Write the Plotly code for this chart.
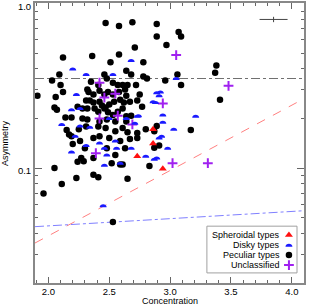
import numpy as np
import plotly.graph_objects as go

# ---------------- data ----------------
pec_C = [2.47, 2.58, 2.69, 2.89, 2.89, 3.07, 3.09, 2.97, 2.71, 2.12, 2.36, 2.58, 2.51, 2.78,
         3.38, 3.37, 3.06, 2.96, 3.09, 3.41, 3.17, 2.89, 2.87, 2.87, 2.91, 1.91, 2.09, 2.03,
         2.10, 2.12, 2.06, 2.05, 2.07,
         2.46, 2.48, 2.53, 2.57, 2.64, 2.68, 2.78, 2.81, 2.61, 2.72, 2.65, 2.75, 2.32, 2.33,
         2.37, 2.42, 2.46, 2.49, 2.53, 2.58, 2.63, 2.64, 2.31, 2.34, 2.37, 2.42, 2.44, 2.47,
         2.50, 2.54, 2.59, 2.62, 2.67, 2.73, 2.28, 2.32, 2.38, 2.41, 2.46, 2.49, 2.53, 2.57,
         2.61, 2.64, 2.68, 2.77, 2.14, 2.19, 2.28, 2.32, 2.42, 2.48, 2.55, 2.64, 2.15, 2.17,
         2.19, 2.25, 2.31, 2.41, 2.47, 2.55, 2.61, 2.65, 2.73, 2.80, 2.20, 2.26, 2.37, 2.42,
         2.50, 2.59, 2.67, 2.73, 2.30, 2.48, 2.63, 2.24, 2.35, 2.41,
         2.27, 2.29, 2.24, 2.37, 2.55, 2.52, 2.59, 2.61, 2.05, 2.83, 2.23, 2.37, 2.41, 2.11,
         2.65, 1.96, 2.53]
pec_A = [0.76, 0.73, 0.77, 0.75, 0.63, 0.67, 0.63, 0.56, 0.54, 0.47, 0.48, 0.49, 0.44, 0.44,
         0.42, 0.38, 0.37, 0.34, 0.32, 0.26, 0.17, 0.18, 0.167, 0.133, 0.137, 0.275, 0.37, 0.34,
         0.32, 0.29, 0.27, 0.233, 0.226,
         0.37, 0.35, 0.33, 0.32, 0.39, 0.37, 0.36, 0.35, 0.32, 0.32, 0.32, 0.28, 0.30, 0.29,
         0.28, 0.295, 0.28, 0.29, 0.28, 0.29, 0.30, 0.275, 0.257, 0.257, 0.25, 0.253, 0.24, 0.233,
         0.243, 0.253, 0.26, 0.25, 0.253, 0.257, 0.23, 0.23, 0.23, 0.22, 0.23, 0.218, 0.21, 0.22,
         0.23, 0.206, 0.208, 0.236, 0.203, 0.203, 0.20, 0.197, 0.192, 0.197, 0.192, 0.192, 0.17, 0.16,
         0.156, 0.172, 0.179, 0.179, 0.175, 0.167, 0.175, 0.165, 0.163, 0.172, 0.14, 0.146, 0.152, 0.156,
         0.152, 0.146, 0.15, 0.152, 0.132, 0.132, 0.132, 0.236, 0.334, 0.32,
         0.115, 0.11, 0.109, 0.115, 0.12, 0.107, 0.105, 0.105, 0.10, 0.103, 0.087, 0.091, 0.088, 0.08,
         0.086, 0.07, 0.047]

disk_C = [2.20, 2.31, 2.53, 2.68, 2.23, 2.19, 2.26, 2.11, 2.26, 2.34, 2.22, 2.31, 2.46, 2.55,
          2.73, 2.74, 2.64, 2.50, 2.42, 2.56, 2.68, 2.71, 2.86,
          3.05, 2.89, 2.92, 2.91, 2.88, 2.94, 2.94, 3.03, 3.21, 2.93, 2.91, 2.98,
          2.19, 2.46, 2.48, 2.59, 2.80, 2.87, 2.89, 2.45]
disk_A = [0.40, 0.37, 0.37, 0.45, 0.28, 0.226, 0.23, 0.184, 0.18, 0.177, 0.156, 0.137, 0.132, 0.146,
          0.206, 0.208, 0.20, 0.20, 0.142, 0.132, 0.132, 0.187, 0.253,
          0.35, 0.287, 0.29, 0.275, 0.25, 0.21, 0.19, 0.172, 0.206, 0.156, 0.152, 0.132,
          0.125, 0.104, 0.12, 0.107, 0.118, 0.113, 0.115, 0.059]

sph_C = [2.73, 2.94, 2.86, 2.86]
sph_A = [0.118, 0.099, 0.172, 0.141]

unc_C = [2.42, 2.46, 2.55, 2.42, 2.57, 2.69, 3.05, 3.48, 2.94, 2.39, 3.02, 3.31]
unc_A = [0.33, 0.268, 0.283, 0.20, 0.208, 0.184, 0.486, 0.316, 0.247, 0.123, 0.107, 0.107]

# reference lines
hline_C = [1.89, 4.10]
hline_A = [0.35, 0.35]
red_line_C = [1.89, 4.10]
red_line_A = [0.035, 0.264]
blue_line_C = [1.89, 4.10]
blue_line_A = [0.044, 0.055]

# typical error bar
err_C = [3.85]
err_A = [0.80]
err_dC = [0.115]
err_dA = [0.03]

legend_labels = ["Spheroidal types", "Disky types", "Peculiar types", "Unclassified"]

x_ticks = [2.0, 2.5, 3.0, 3.5, 4.0]
x_ticktext = ["2.0", "2.5", "3.0", "3.5", "4.0"]
y_ticks = [0.1, 1.0]
y_ticktext = ["0.1", "1.0"]
y_minor = [0.02, 0.03, 0.04, 0.05, 0.06, 0.07, 0.08, 0.09, 0.2, 0.3, 0.4, 0.5, 0.6, 0.7, 0.8, 0.9]

# ---------------- styles ----------------
BLUE = "#1a1aff"
RED = "#ff1010"
PURPLE = "#a020f0"
FONT = "Liberation Sans"
DOME = "M-3.5,-1.5 C-3.5,2.5 3.5,2.5 3.5,-1.5 Z"

fig = go.Figure()

fig.add_trace(go.Scatter(x=hline_C, y=hline_A, mode="lines",
                         line=dict(color="#707070", width=1, dash="dashdot"), hoverinfo="skip"))
fig.add_trace(go.Scatter(x=red_line_C, y=red_line_A, mode="lines",
                         line=dict(color="#ff8080", width=1, dash="dash"), hoverinfo="skip"))
fig.add_trace(go.Scatter(x=blue_line_C, y=blue_line_A, mode="lines",
                         line=dict(color="#8080ff", width=1, dash="dashdot"), hoverinfo="skip"))

fig.add_trace(go.Scatter(x=pec_C, y=pec_A, mode="markers", name=legend_labels[2],
                         marker=dict(symbol="circle", size=6.5, color="black", line=dict(width=0))))
# disky: invisible carrier trace (shapes below draw the half-disc symbols)
fig.add_trace(go.Scatter(x=disk_C, y=disk_A, mode="markers", name=legend_labels[1],
                         marker=dict(size=6, color=BLUE, opacity=0)))
fig.add_trace(go.Scatter(x=sph_C, y=sph_A, mode="markers", name=legend_labels[0],
                         marker=dict(symbol="triangle-up", size=7, color=RED, line=dict(width=0))))
fig.add_trace(go.Scatter(x=unc_C, y=unc_A, mode="markers", name=legend_labels[3],
                         marker=dict(symbol="cross-thin", size=7, color=PURPLE,
                                     line=dict(width=2, color=PURPLE))))

fig.add_trace(go.Scatter(x=err_C, y=err_A, mode="markers", marker=dict(size=0.1, color="#444"),
                         error_x=dict(type="data", array=err_dC, width=0, thickness=1, color="#444"),
                         error_y=dict(type="data", array=err_dA, width=0, thickness=1, color="#444"),
                         hoverinfo="skip"))

shapes = []
for c, a in zip(disk_C, disk_A):
    shapes.append(dict(type="path", xref="x", yref="y", xsizemode="pixel", ysizemode="pixel",
                       xanchor=c, yanchor=a, path=DOME, fillcolor=BLUE, line=dict(width=0)))

# legend box
shapes.append(dict(type="rect", xref="paper", yref="paper", x0=0.639, x1=0.974, y0=0.036, y1=0.203,
                   line=dict(color="#a0a0a0", width=1), fillcolor="white", layer="below"))

leg_y = [0.171, 0.135, 0.100, 0.064]
leg_text_x = 0.918
leg_sym_x = 0.944

# legend symbols on an overlay axis
fig.add_trace(go.Scatter(x=[leg_sym_x], y=[leg_y[0]], xaxis="x2", yaxis="y2", mode="markers",
                         marker=dict(symbol="triangle-up", size=7, color=RED), hoverinfo="skip"))
fig.add_trace(go.Scatter(x=[leg_sym_x], y=[leg_y[2]], xaxis="x2", yaxis="y2", mode="markers",
                         marker=dict(symbol="circle", size=6.5, color="black"), hoverinfo="skip"))
fig.add_trace(go.Scatter(x=[leg_sym_x], y=[leg_y[3]], xaxis="x2", yaxis="y2", mode="markers",
                         marker=dict(symbol="cross-thin", size=7, color=PURPLE,
                                     line=dict(width=2, color=PURPLE)), hoverinfo="skip"))
shapes.append(dict(type="path", xref="paper", yref="paper", xsizemode="pixel", ysizemode="pixel",
                   xanchor=leg_sym_x, yanchor=leg_y[1], path=DOME, fillcolor=BLUE,
                   line=dict(width=0), layer="above"))

annotations = []
for lbl, yy in zip(legend_labels, leg_y):
    annotations.append(dict(text=lbl, xref="paper", yref="paper", x=leg_text_x, y=yy,
                            xanchor="right", yanchor="middle", showarrow=False,
                            font=dict(family=FONT, size=9, color="black")))
annotations.append(dict(text="Concentration", xref="paper", yref="paper", x=0.5, y=0,
                        xanchor="center", yanchor="top", yshift=-11, showarrow=False,
                        font=dict(family=FONT, size=9, color="black")))
annotations.append(dict(text="Asymmetry", xref="paper", yref="paper", x=0, y=0.5,
                        xanchor="right", yanchor="middle", xshift=-23, textangle=-90,
                        showarrow=False, font=dict(family=FONT, size=9, color="black")))

axis_common = dict(showline=True, linecolor="#888888", linewidth=2, mirror="ticks",
                   ticks="inside", tickcolor="#666666", showgrid=False, zeroline=False,
                   automargin=False, ticklabeloverflow="allow",
                   tickfont=dict(family=FONT, size=9.5, color="black"))

fig.update_layout(
    width=315, height=305,
    margin=dict(l=35, r=11, t=3, b=22, autoexpand=False),
    paper_bgcolor="white", plot_bgcolor="white",
    showlegend=False,
    shapes=shapes, annotations=annotations,
    xaxis=dict(range=[1.89, 4.10], tickmode="array", tickvals=x_ticks, ticktext=x_ticktext,
               ticklen=6, tickwidth=1, ticklabelstandoff=-1,
               minor=dict(tickmode="linear", tick0=2.0, dtick=0.1, ticks="inside", ticklen=3,
                          tickcolor="#666666", tickwidth=1, showgrid=False),
               **axis_common),
    yaxis=dict(type="log", range=[np.log10(0.02), 0.003], tickmode="array", tickvals=y_ticks,
               ticktext=y_ticktext, ticklen=7, tickwidth=1, ticklabelshift=3,
               minor=dict(tickmode="array", tickvals=y_minor, ticks="inside", ticklen=3,
                          tickcolor="#666666", tickwidth=1, showgrid=False),
               **axis_common),
    xaxis2=dict(overlaying="x", range=[0, 1], visible=False, fixedrange=True),
    yaxis2=dict(overlaying="y", range=[0, 1], visible=False, fixedrange=True),
)

fig.write_html("out.html", config={"displayModeBar": False},
               post_script="document.body.style.margin='0';document.body.style.overflow='hidden';")
